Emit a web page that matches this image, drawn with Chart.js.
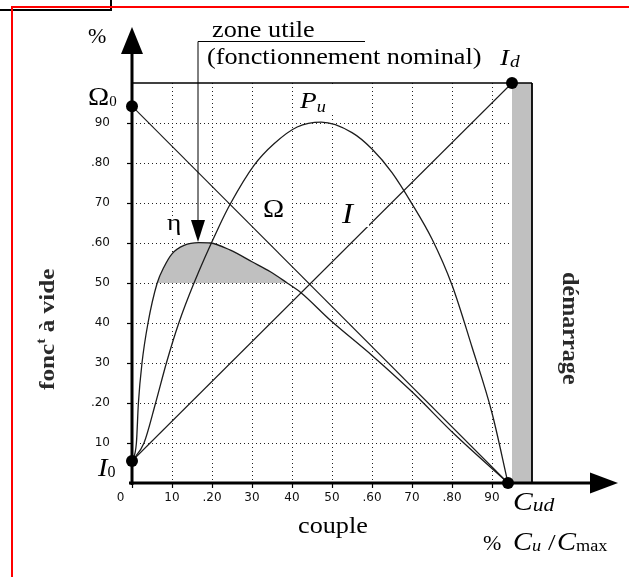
<!DOCTYPE html>
<html>
<head>
<meta charset="utf-8">
<script src="https://cdn.jsdelivr.net/npm/chart.js@4/dist/chart.umd.min.js"></script>
<style>
  html, body { margin: 0; padding: 0; background: #fff; }
  #wrap { position: relative; width: 629px; height: 577px; overflow: hidden; background: #fff; }
  #wrap canvas { position: absolute; left: 0; top: 0; }
  .rule { position: absolute; }
</style>
</head>
<body>
<div id="wrap">
  <div class="rule" style="left:0;top:9px;width:112px;height:2px;background:#000"></div>
  <div class="rule" style="left:110px;top:0;width:2px;height:11px;background:#000"></div>
  <div class="rule" style="left:11px;top:6px;width:618px;height:2px;background:#f00"></div>
  <div class="rule" style="left:11px;top:6px;width:2px;height:571px;background:#f00"></div>
  <canvas id="c" width="629" height="577"></canvas>
</div>
<script>
// Axis ticks (percent of nominal values) and their printed labels
const tickValues  = [0, 10, 20, 30, 40, 50, 60, 70, 80, 90, 100];
const xTickLabels = ['0\u00a0\u00a0\u00a0\u00a0\u00a0\u00a0', '10', '.20', '30', '40', '50', '.60', '70', '.80', '90', ''];
const yTickLabels = ['', '10', '.20', '30', '40', '50', '.60', '70', '.80', '90', ''];

// Efficiency η versus torque
const etaX = [0, 1.1, 1.6, 2.5, 4.0, 6.3, 8.0, 10.0, 13.0, 16.7, 19.6, 24.6, 30.0, 34.6, 38.8, 42.1, 49.6, 60.0, 70.0, 80.5, 94.0];
const etaY = [5.5, 10, 20, 30, 40, 50, 54, 57.3, 59.4, 60.1, 60, 58.2, 55.3, 52.8, 50, 47.7, 40.7, 31.9, 22.8, 12.3, 0];

// Useful power Pu versus torque
const puX = [0, 3.0, 5.9, 8.6, 11.7, 15.5, 21.7, 24.6, 30.5, 35.5, 41.3, 47.3, 55, 60, 65, 70, 75, 80, 85, 90, 94];
const puY = [5.5, 10, 20, 30, 40, 50, 64, 69.8, 79.4, 84.8, 89, 90.2, 87.6, 83.5, 77.6, 69.8, 61.0, 49.5, 34.0, 17.5, 0];

// Speed Ω and current I (straight characteristics)
const omegaX = [0, 94];
const omegaY = [94.2, 0];
const currentX = [0, 95];
const currentY = [5.5, 100];

// Remarkable points: Ω0, I0, Id, Cud
const markX = [0, 0, 95, 94];
const markY = [94.2, 5.5, 100, 0];

// Start-up zone (shaded strip) and useful-zone threshold on η
const startupX = [95, 100];
const startupY = [100, 100];
const usefulEtaMin = 50;

const pts = (xs, ys) => xs.map((v, i) => ({ x: v, y: ys[i] }));
const etaPts = pts(etaX, etaY);
const etaZone = etaPts.filter((p, i) => p.y >= usefulEtaMin && etaX[i] < 45);

const INK = '#1c1c1c';
const SHADE = '#c0c0c0';
const SERIF = '"Liberation Serif", "Times New Roman", serif';

function put(ctx, s, x, y, o) {
  o = o || {};
  const size = o.size || 22;
  const sx = o.sx === undefined ? 1.14 : o.sx;
  ctx.save();
  ctx.font = (o.italic ? 'italic ' : '') + (o.bold ? 'bold ' : '') + size + 'px ' + SERIF;
  ctx.fillStyle = o.color || '#000';
  ctx.textBaseline = 'alphabetic';
  ctx.textAlign = 'left';
  ctx.translate(x, y);
  ctx.scale(sx, 1);
  ctx.fillText(s, 0, 0);
  const w = ctx.measureText(s).width * sx;
  ctx.restore();
  return x + w;
}

function whiteBox(ctx, x, y, w, h) {
  ctx.save();
  ctx.fillStyle = '#fff';
  ctx.fillRect(x, y, w, h);
  ctx.restore();
}

const decor = {
  id: 'decor',
  afterDraw(chart) {
    const { ctx, scales: { x, y } } = chart;
    const X = v => x.getPixelForValue(v);
    const Y = v => y.getPixelForValue(v);
    ctx.save();
    ctx.strokeStyle = '#000';
    ctx.fillStyle = '#000';

    // frame: top and right borders
    ctx.lineWidth = 1.5;
    ctx.beginPath();
    ctx.moveTo(X(0), Y(100));
    ctx.lineTo(X(100), Y(100));
    ctx.stroke();
    ctx.lineWidth = 1.8;
    ctx.beginPath();
    ctx.moveTo(X(100), Y(100));
    ctx.lineTo(X(100), Y(0));
    ctx.stroke();

    // axes with arrow heads
    ctx.lineWidth = 3;
    ctx.beginPath();
    ctx.moveTo(X(0), Y(0) + 2);
    ctx.lineTo(X(0), 50);
    ctx.stroke();
    ctx.beginPath();
    ctx.moveTo(X(0), 27);
    ctx.lineTo(X(0) - 11, 54);
    ctx.lineTo(X(0) + 11, 54);
    ctx.closePath();
    ctx.fill();

    ctx.beginPath();
    ctx.moveTo(X(0) - 3, Y(0));
    ctx.lineTo(592, Y(0));
    ctx.stroke();
    ctx.beginPath();
    ctx.moveTo(618, Y(0));
    ctx.lineTo(590, Y(0) - 10.5);
    ctx.lineTo(590, Y(0) + 10.5);
    ctx.closePath();
    ctx.fill();

    // useful-zone callout: bracket and arrow onto the η maximum
    const ax = X(16.5);
    const tip = Y(60) - 1;
    ctx.lineWidth = 1;
    ctx.beginPath();
    ctx.moveTo(365, 41.5);
    ctx.lineTo(ax, 41.5);
    ctx.lineTo(ax, tip - 20);
    ctx.stroke();
    ctx.beginPath();
    ctx.moveTo(ax, tip);
    ctx.lineTo(ax - 7, tip - 22);
    ctx.lineTo(ax + 7, tip - 22);
    ctx.closePath();
    ctx.fill();
    ctx.restore();

    // texts
    put(ctx, '%', 88, 43, { size: 22, sx: 1 });
    put(ctx, 'zone utile', 212, 36.5, { size: 23 });
    put(ctx, '(fonctionnement nominal)', 207, 64, { size: 23 });

    let nx = put(ctx, 'I', 500, 65, { size: 24, italic: true });
    put(ctx, 'd', nx + 1, 67, { size: 17, italic: true });

    nx = put(ctx, 'Ω', 88, 105, { size: 25 });
    put(ctx, '0', nx, 106, { size: 15, sx: 1 });

    whiteBox(ctx, 298, 84, 36, 29);
    nx = put(ctx, 'P', 300, 108, { size: 24, italic: true });
    put(ctx, 'u', nx, 112, { size: 16, italic: true });

    whiteBox(ctx, 260, 198, 29, 21);
    put(ctx, 'Ω', 263, 217, { size: 25 });

    whiteBox(ctx, 339, 200, 30, 27);
    put(ctx, 'I', 342, 223, { size: 29, italic: true });

    whiteBox(ctx, 165, 217, 18, 19);
    put(ctx, 'η', 167, 230, { size: 24 });

    nx = put(ctx, 'I', 98, 476, { size: 25, italic: true });
    put(ctx, '0', nx, 477, { size: 16, sx: 1 });

    nx = put(ctx, 'C', 513, 510, { size: 26, italic: true });
    put(ctx, 'ud', nx, 511, { size: 19, italic: true });

    put(ctx, '%', 483, 550, { size: 22, sx: 1 });
    nx = put(ctx, 'C', 513, 550, { size: 25, italic: true });
    put(ctx, 'u', nx, 551, { size: 16, italic: true });
    put(ctx, '/', 548, 550, { size: 24 });
    nx = put(ctx, 'C', 557, 550, { size: 25, italic: true });
    put(ctx, 'max', nx, 551, { size: 16 });

    put(ctx, 'couple', 298, 533, { size: 23 });

    // vertical side captions
    ctx.save();
    ctx.translate(54, 390);
    ctx.rotate(-Math.PI / 2);
    nx = put(ctx, 'fonc', 0, 0, { size: 21, bold: true, color: '#2a2a2a', sx: 1.2 });
    nx = put(ctx, 't', nx, -9, { size: 13, bold: true, color: '#2a2a2a', sx: 1.2 });
    put(ctx, ' à vide', nx, 0, { size: 21, bold: true, color: '#2a2a2a', sx: 1.2 });
    ctx.restore();

    ctx.save();
    ctx.translate(563, 272);
    ctx.rotate(Math.PI / 2);
    put(ctx, 'démarrage', 0, 0, { size: 23, bold: true, color: '#2a2a2a', sx: 1.05 });
    ctx.restore();
  }
};

const tickFont = { family: 'DejaVu Sans', size: 12 };

new Chart(document.getElementById('c'), {
  type: 'scatter',
  data: {
    datasets: [
      { label: 'points', data: pts(markX, markY), pointRadius: 6, pointBackgroundColor: '#000',
        pointBorderWidth: 0, showLine: false, clip: false, order: 0 },
      { label: 'Ω', data: pts(omegaX, omegaY), showLine: true, borderColor: INK, borderWidth: 1.1,
        pointRadius: 0, clip: false, order: 1 },
      { label: 'I', data: pts(currentX, currentY), showLine: true, borderColor: INK, borderWidth: 1.1,
        pointRadius: 0, clip: false, order: 2 },
      { label: 'Pu', data: pts(puX, puY), showLine: true, borderColor: INK, borderWidth: 1.3,
        cubicInterpolationMode: 'monotone', pointRadius: 0, clip: false, order: 3 },
      { label: 'η', data: etaPts, showLine: true, borderColor: INK, borderWidth: 1.3,
        cubicInterpolationMode: 'monotone', pointRadius: 0, clip: false, order: 4 },
      { label: 'zone utile', data: etaZone, showLine: true, borderWidth: 0, borderColor: 'rgba(0,0,0,0)',
        backgroundColor: SHADE, fill: { value: usefulEtaMin }, cubicInterpolationMode: 'monotone',
        pointRadius: 0, clip: false, order: 8 },
      { label: 'démarrage', data: pts(startupX, startupY), showLine: true, borderWidth: 0,
        borderColor: 'rgba(0,0,0,0)', backgroundColor: SHADE, fill: 'origin', pointRadius: 0,
        clip: false, order: 9 }
    ]
  },
  options: {
    responsive: false,
    animation: false,
    events: [],
    layout: { padding: { left: 0, top: 83, right: 97, bottom: 0 } },
    plugins: { legend: { display: false }, tooltip: { enabled: false } },
    scales: {
      x: {
        type: 'linear', min: 0, max: 100, z: 1,
        afterBuildTicks: s => { s.ticks = tickValues.map(v => ({ value: v })); },
        afterFit: s => { s.height = 94; },
        ticks: {
          autoSkip: false, maxRotation: 0, minRotation: 0, padding: 3,
          font: tickFont, color: '#111',
          callback: (v) => xTickLabels[tickValues.indexOf(v)]
        },
        grid: {
          lineWidth: 1, tickLength: 5, tickWidth: 1.2, tickBorderDash: [],
          color: c => (c.tick && (c.tick.value === 0 || c.tick.value === 100)) ? 'rgba(0,0,0,0)' : '#222',
          tickColor: c => (c.tick && c.tick.value === 100) ? 'rgba(0,0,0,0)' : '#000'
        },
        border: { display: false, dash: [1, 3] }
      },
      y: {
        type: 'linear', min: 0, max: 100, z: 1,
        afterBuildTicks: s => { s.ticks = tickValues.map(v => ({ value: v })); },
        afterFit: s => { s.width = 132; },
        ticks: {
          autoSkip: false, padding: 17, font: tickFont, color: '#111',
          callback: (v) => yTickLabels[tickValues.indexOf(v)]
        },
        grid: {
          lineWidth: 1, tickLength: 5, tickWidth: 1.2, tickBorderDash: [],
          color: c => (c.tick && (c.tick.value === 0 || c.tick.value === 100)) ? 'rgba(0,0,0,0)' : '#222',
          tickColor: c => (c.tick && (c.tick.value === 0 || c.tick.value === 100)) ? 'rgba(0,0,0,0)' : '#000'
        },
        border: { display: false, dash: [1, 3] }
      }
    }
  },
  plugins: [decor]
});
</script>
</body>
</html>
